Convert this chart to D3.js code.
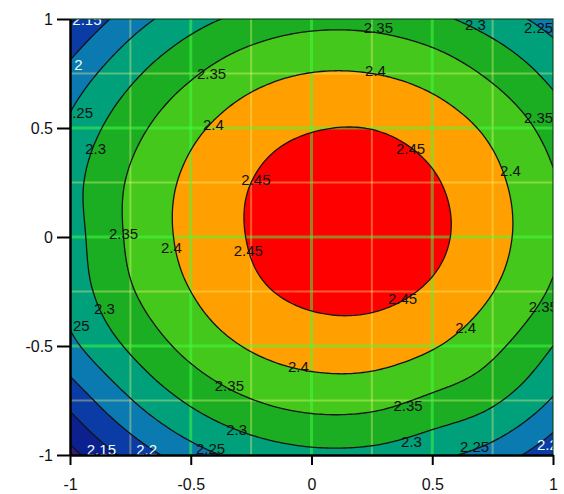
<!DOCTYPE html>
<html><head><meta charset="utf-8">
<script src="https://cdn.jsdelivr.net/npm/d3@7"></script>
<style>body{margin:0;background:#fff;} svg{display:block}</style>
</head><body>
<svg id="chart" width="564" height="494"></svg>
<script>
// ---- data ----
const xValues = [-1, -0.75, -0.5, -0.25, 0, 0.25, 0.5, 0.75, 1];
const yValues = [1, 0.75, 0.5, 0.25, 0, -0.25, -0.5, -0.75, -1];
const zRows = [
  [2.142, 2.225, 2.280, 2.315, 2.333, 2.332, 2.312, 2.275, 2.230],
  [2.215, 2.288, 2.343, 2.382, 2.401, 2.400, 2.380, 2.340, 2.285],
  [2.260, 2.332, 2.388, 2.427, 2.447, 2.449, 2.428, 2.388, 2.330],
  [2.281, 2.356, 2.411, 2.450, 2.474, 2.476, 2.455, 2.412, 2.355],
  [2.276, 2.358, 2.414, 2.453, 2.479, 2.481, 2.461, 2.417, 2.360],
  [2.268, 2.345, 2.400, 2.440, 2.461, 2.462, 2.443, 2.401, 2.343],
  [2.237, 2.308, 2.366, 2.405, 2.424, 2.425, 2.404, 2.362, 2.300],
  [2.165, 2.247, 2.308, 2.348, 2.367, 2.365, 2.340, 2.308, 2.245],
  [2.083, 2.166, 2.228, 2.268, 2.287, 2.285, 2.262, 2.228, 2.163]
];
const levels = [2.1, 2.15, 2.2, 2.25, 2.3, 2.35, 2.4, 2.45];
const bandColors = ["#3c1a78", "#0c2090", "#0b3ca6", "#0a7ab0", "#00a07a", "#1cae22", "#44c81c", "#ffa000", "#ff0000"];
const xTicks = [-1, -0.5, 0, 0.5, 1];
const yTicks = [-1, -0.5, 0, 0.5, 1];
const xTickLabels = ["-1", "-0.5", "0", "0.5", "1"];
const yTickLabels = ["-1", "-0.5", "0", "0.5", "1"];
const majorGrid = [-0.5, 0, 0.5];
const minorGrid = [-0.75, -0.25, 0.25, 0.75];
const labelX = [-0.965, -0.93, -0.965, -0.894, -0.778, -0.58, -0.262, -0.23, 0.41, 0.377, -0.406, -0.414, 0.265, 0.277, 0.679, 0.94, 0.94, 0.824, 0.96, 0.638, -0.054, -0.34, 0.40, -0.31, 0.414, -0.418, 0.675, 0.977, -0.87, -0.683, -0.857, -0.979];
const labelY = [0.789, 1.0, 0.569, 0.408, 0.018, -0.05, -0.06, 0.266, 0.404, -0.284, 0.514, 0.752, 0.766, 0.959, 0.977, 0.96, 0.55, 0.307, -0.32, -0.413, -0.596, -0.679, -0.775, -0.885, -0.936, -0.968, -0.963, -0.95, -0.977, -0.977, -0.33, -0.404];
const labelText = ["2", "2.15", "2.25", "2.3", "2.35", "2.4", "2.45", "2.45", "2.45", "2.45", "2.4", "2.35", "2.4", "2.35", "2.3", "2.25", "2.35", "2.4", "2.35", "2.4", "2.4", "2.35", "2.35", "2.3", "2.3", "2.25", "2.25", "2.2", "2.15", "2.2", "2.3", "2.25"];
const labelLight = [1, 1, 0, 0, 0, 0, 0, 0, 0, 0, 0, 0, 0, 0, 0, 0, 0, 0, 0, 0, 0, 0, 0, 0, 0, 0, 0, 1, 1, 1, 0, 0];

// ---- layout ----
const svg = d3.select("#chart");
const x = d3.scaleLinear().domain([-1, 1]).range([70, 553]);
const y = d3.scaleLinear().domain([-1, 1]).range([455, 19]);

// smooth resampling of the grid for drawing (Catmull-Rom)
const nC = xValues.length, nR = yValues.length;
function g(r, c) {
  if (c < 0) return 3 * g(r, 0) - 3 * g(r, 1) + g(r, 2);
  if (c > nC - 1) return 3 * g(r, nC - 1) - 3 * g(r, nC - 2) + g(r, nC - 3);
  if (r < 0) return 3 * g(0, c) - 3 * g(1, c) + g(2, c);
  if (r > nR - 1) return 3 * g(nR - 1, c) - 3 * g(nR - 2, c) + g(nR - 3, c);
  return zRows[r][c];
}
function cr(p0, p1, p2, p3, t) {
  return 0.5 * (2 * p1 + (-p0 + p2) * t + (2 * p0 - 5 * p1 + 4 * p2 - p3) * t * t + (-p0 + 3 * p1 - 3 * p2 + p3) * t * t * t);
}
function sample(u, v) {
  const k = Math.min(Math.floor(u), nC - 2), t = u - k;
  const l = Math.min(Math.floor(v), nR - 2), s = v - l;
  const rows = [];
  for (let r = l - 1; r <= l + 2; r++) rows.push(cr(g(r, k - 1), g(r, k), g(r, k + 1), g(r, k + 2), t));
  return cr(rows[0], rows[1], rows[2], rows[3], s);
}
const F = 20;
const N = (nC - 1) * F + 1;
const values = new Array(N * N);
for (let j = 0; j < N; j++) for (let i = 0; i < N; i++) values[j * N + i] = sample(i / F, j / F);

const xv = d3.scaleLinear().domain([0.5, N - 0.5]).range([xValues[0], xValues[nC - 1]]);
const yv = d3.scaleLinear().domain([0.5, N - 0.5]).range([yValues[0], yValues[nR - 1]]);
const proj = d3.geoTransform({ point: function (px, py) { this.stream.point(x(xv(px)), y(yv(py))); } });
const path = d3.geoPath(proj);
const contours = d3.contours().size([N, N]).thresholds(levels)(values);

svg.append("clipPath").attr("id", "clip").append("rect")
  .attr("x", x(-1)).attr("y", y(1)).attr("width", x(1) - x(-1)).attr("height", y(-1) - y(1));
const plot = svg.append("g").attr("clip-path", "url(#clip)");

plot.append("rect").attr("x", x(-1)).attr("y", y(1)).attr("width", x(1) - x(-1)).attr("height", y(-1) - y(1))
  .attr("fill", bandColors[0]);
plot.selectAll("path.band").data(contours).join("path").attr("class", "band")
  .attr("d", path).attr("fill", (d, i) => bandColors[i + 1]);

// grid
plot.selectAll("line.minx").data(minorGrid).join("line").attr("class", "minx")
  .attr("x1", d => x(d)).attr("x2", d => x(d)).attr("y1", y(1)).attr("y2", y(-1))
  .attr("stroke", "#ffff80").attr("stroke-opacity", 0.35).attr("stroke-width", 2);
plot.selectAll("line.miny").data(minorGrid).join("line").attr("class", "miny")
  .attr("y1", d => y(d)).attr("y2", d => y(d)).attr("x1", x(-1)).attr("x2", x(1))
  .attr("stroke", "#ffff80").attr("stroke-opacity", 0.35).attr("stroke-width", 2);
plot.selectAll("line.majx").data(majorGrid).join("line").attr("class", "majx")
  .attr("x1", d => x(d)).attr("x2", d => x(d)).attr("y1", y(1)).attr("y2", y(-1))
  .attr("stroke", "#40ff40").attr("stroke-opacity", 0.5).attr("stroke-width", 3);
plot.selectAll("line.majy").data(majorGrid).join("line").attr("class", "majy")
  .attr("y1", d => y(d)).attr("y2", d => y(d)).attr("x1", x(-1)).attr("x2", x(1))
  .attr("stroke", "#40ff40").attr("stroke-opacity", 0.5).attr("stroke-width", 3);

// contour lines
plot.selectAll("path.iso").data(contours).join("path").attr("class", "iso")
  .attr("d", path).attr("fill", "none").attr("stroke", "#141414").attr("stroke-width", 1.3);

// contour labels
plot.selectAll("text.lab").data(labelText).join("text").attr("class", "lab")
  .attr("x", (d, i) => x(labelX[i])).attr("y", (d, i) => y(labelY[i]))
  .attr("text-anchor", "middle").attr("dominant-baseline", "central")
  .attr("font-family", "Liberation Sans, Arial, sans-serif").attr("font-size", 15)
  .attr("fill", (d, i) => labelLight[i] ? "#e8ffff" : "#111")
  .text(d => d);

// frame top/right
svg.append("path").attr("d", `M${x(-1)},${y(1)}H${x(1)}V${y(-1)}`)
  .attr("fill", "none").attr("stroke", "#063a10").attr("stroke-opacity", 0.7).attr("stroke-width", 1.5);

// axes
const xAxis = d3.axisBottom(x).tickValues(xTicks).tickFormat((d, i) => xTickLabels[i]).tickSize(10).tickSizeOuter(0).tickPadding(14);
const yAxis = d3.axisLeft(y).tickValues(yTicks).tickFormat((d, i) => yTickLabels[i]).tickSize(13).tickSizeOuter(0).tickPadding(4);
const gx = svg.append("g").attr("transform", `translate(0,${y(-1)})`).call(xAxis);
const gy = svg.append("g").attr("transform", `translate(${x(-1)},0)`).call(yAxis);
[gx, gy].forEach(a => {
  a.select(".domain").attr("stroke", "#000").attr("stroke-width", 2.5);
  a.selectAll(".tick line").attr("stroke", "#000").attr("stroke-width", 2);
  a.selectAll(".tick text").attr("fill", "#111").attr("font-size", 16).attr("font-family", "Liberation Sans, Arial, sans-serif");
});
</script>
</body></html>
